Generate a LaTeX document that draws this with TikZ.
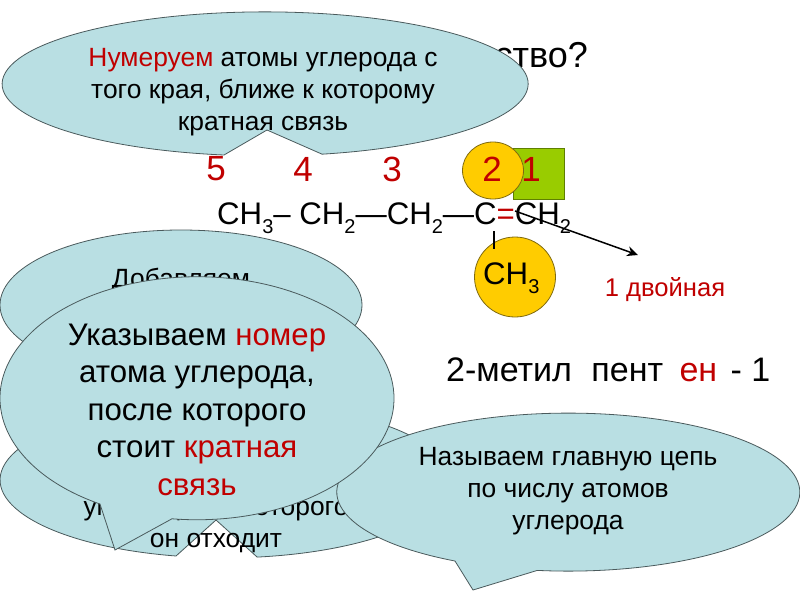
\documentclass[tikz,border=0pt]{standalone}
\usepackage{fontspec}
\setmainfont{Liberation Sans}
\usetikzlibrary{shapes.geometric,arrows.meta}
\definecolor{bubblefill}{HTML}{B9DFE3}
\definecolor{bubbleline}{HTML}{4A5A5C}
\definecolor{redtext}{HTML}{C00000}
\definecolor{ballfill}{HTML}{FFCC00}
\definecolor{ballline}{HTML}{7F6A10}
\definecolor{squarefill}{HTML}{99CC00}
\definecolor{squareline}{HTML}{5F7F00}
\newcommand{\subnum}[1]{\raisebox{-.55ex}{\fontsize{20}{20}\selectfont #1}}
\newcommand{\redw}[1]{\textcolor{redtext}{#1}}
\begin{document}
\begin{tikzpicture}
         [x=1pt, y=-1pt,
         bubble/.style={fill=bubblefill,draw=bubbleline,line width=.8pt},
         bubble text/.style={align=center,inner sep=0pt,font=\fontsize{26.4}{32}\selectfont},
         big text/.style={inner sep=0pt,font=\fontsize{34}{40}\selectfont},
         num/.style={inner sep=0pt,text=redtext,font=\fontsize{35}{40}\selectfont},
         chem/.style={inner sep=0pt,anchor=base west,font=\fontsize{31.2}{36}\selectfont},
         yellow ball/.style={ellipse,draw=ballline,fill=ballfill,line width=.8pt,inner sep=0pt}]
         \useasboundingbox[fill=white] (0,0) rectangle (800,600);

         \node[big text, anchor=east, font=\fontsize{36}{40}\selectfont] (title) at (588,55) {ество?};

         % numbered chain
         \node[draw=squareline, fill=squarefill, line width=.8pt, minimum size=51pt, inner sep=0pt] (square) at (538.5,173.5) {};
         \node[yellow ball, minimum width=61pt, minimum height=57pt] (ball2) at (493,170.5) {};
         \node[yellow ball, minimum width=81pt, minimum height=80pt] (ball3) at (515,277) {};
         \node[num] (n5) at (216,169) {5};
         \node[num] (n4) at (303,169) {4};
         \node[num] (n3) at (392,169) {3};
         \node[num] (n2) at (492,169) {2};
         \node[num] (n1) at (531,169) {1};
         \node[chem] (chain) at (217,224)
              {CH\subnum{3}– CH\subnum{2}—CH\subnum{2}—C\redw{=}CH\subnum{2}};
         \node[chem] (ch3) at (483,284) {CH\subnum{3}};
         \coordinate (bondtop) at (494,231);
         \coordinate (bondend) at (494,249);
         \coordinate (arrowstart) at (515,211);
         \coordinate (arrowend) at (638,255);
         \draw[line width=1.2pt] (bondtop) -- (bondend);
         \draw[line width=1.5pt, -{Stealth[length=11pt,width=10pt]}] (arrowstart) -- (arrowend);
         \node[inner sep=0pt, text=redtext, font=\fontsize{25.6}{30}\selectfont] (bondname) at (665,290) {1 двойная};
         \node[big text, anchor=west] (name) at (446,370) {2-метил\hspace{10pt} пент\hspace{7pt} \redw{ен}\hspace{4pt} - 1};

         % bubbles, back to front
         \draw[bubble] (224,155) arc[start angle=99, end angle=437.5, x radius=263, y radius=72] -- (267,130) -- cycle;
         \node[bubble text] (numbering) at (263,92) {\redw{Нумеруем} атомы углерода с\\того края, ближе к которому\\кратная связь};

         \node[bubble, ellipse, minimum width=362pt, minimum height=150pt, inner sep=0pt] (adding) at (181,305) {};
         \node[bubble text] (addingtext) at (181,280) {Добавляем};

         \draw[bubble] (176,556) arc[start angle=102.6, end angle=441.8, x radius=225, y radius=78] -- (216,520) -- cycle;
         \node[bubble text] (branch) at (216,527) {углерода, от которого\\он отходит};

         \draw[bubble] (455,561) arc[start angle=119.3, end angle=457.7, x radius=231.5, y radius=79] -- (473,590) -- cycle;
         \node[bubble text] (chainname) at (568,491) {Называем главную цепь\\по числу атомов\\углерода};

         \draw[bubble] (100,504) arc[start angle=119.5, end angle=457.3, x radius=197, y radius=121.5] -- (115,550) -- cycle;
         \node[bubble text, font=\fontsize{31.2}{37.5}\selectfont] (position) at (197,409.5) {Указываем \redw{номер}\\атома углерода,\\после которого\\стоит \redw{кратная}\\\redw{связь}};
      \end{tikzpicture}
\end{document}
